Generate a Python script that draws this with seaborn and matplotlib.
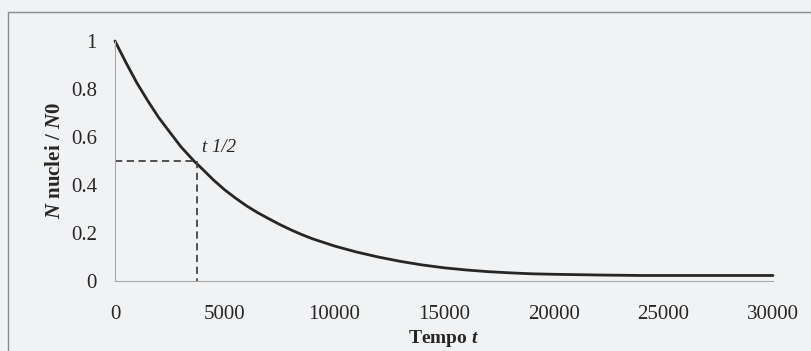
import numpy as np
import pandas as pd
import matplotlib
matplotlib.use("Agg")
import matplotlib.pyplot as plt
from matplotlib.patches import Rectangle
import seaborn as sns

# values
tempo = [0, 500, 1000, 1500, 2000, 2500, 3000, 3600, 4000, 4500, 5000,
         5500, 6000, 6500, 7000, 7500, 8000, 8500, 9000, 10000, 11000,
         12000, 13000, 14000, 15000, 16000, 17000, 18000, 19000, 20000,
         22000, 24000, 26000, 28000, 30000]
n_rel = [1.0, 0.91, 0.825, 0.75, 0.68, 0.62, 0.56, 0.50, 0.465, 0.42, 0.38,
         0.345, 0.313, 0.285, 0.26, 0.236, 0.214, 0.194, 0.176, 0.146, 0.121,
         0.10, 0.082, 0.067, 0.055, 0.046, 0.039, 0.034, 0.030, 0.028,
         0.025, 0.023, 0.023, 0.023, 0.023]
t_half = 3600
x_ticks = [0, 5000, 10000, 15000, 20000, 25000, 30000]
y_ticks = [0, 0.2, 0.4, 0.6, 0.8, 1]
y_labels = ["0", "0.2", "0.4", "0.6", "0.8", "1"]

bg = "#f1f2f4"
ink = "#262626"

sns.set_style("white")
plt.rcParams["font.family"] = ["Liberation Serif", "DejaVu Serif"]
plt.rcParams["mathtext.fontset"] = "custom"
plt.rcParams["mathtext.it"] = "Liberation Serif:italic:bold"
plt.rcParams["mathtext.rm"] = "Liberation Serif:bold"

data = pd.DataFrame({"tempo": tempo, "n": n_rel})

fig = plt.figure(figsize=(8.11, 3.51), dpi=100, facecolor=bg)
ax = fig.add_axes([115 / 811, 1 - 281 / 351, (773 - 115) / 811, (281 - 41) / 351])
ax.set_facecolor(bg)

sns.lineplot(data=data, x="tempo", y="n", ax=ax, color=ink, linewidth=2.0,
             clip_on=False)

# half-life guides
ax.plot([0, t_half], [0.5, 0.5], ls=(0, (4, 2.5)), color="#444444", lw=1.3)
ax.plot([t_half + 120, t_half + 120], [0.5, 0.0], ls=(0, (4, 2.5)), color="#444444", lw=1.3)
ax.text(t_half + 350, 0.555, "t 1/2", fontsize=13.5, style="italic", color=ink,
        va="center", ha="left")

ax.set_xlim(0, 30000)
ax.set_ylim(0, 1)
ax.set_xticks(x_ticks)
ax.set_xticklabels([str(v) for v in x_ticks])
ax.set_yticks(y_ticks)
ax.set_yticklabels(y_labels)
ax.tick_params(axis="both", labelsize=15, colors="#9a9a9a", labelcolor=ink,
               length=5, width=0.8, direction="out")
ax.tick_params(axis="x", pad=12)
ax.tick_params(axis="y", pad=8)

for s in ["top", "right"]:
    ax.spines[s].set_visible(False)
for s in ["left", "bottom"]:
    ax.spines[s].set_color("#a8a8a8")
    ax.spines[s].set_linewidth(0.8)

ax.set_xlabel(r"Tempo $t$", fontsize=14, fontweight="bold", color=ink, labelpad=3)
ax.set_ylabel(r"$N$ nuclei / $N0$", fontsize=15, fontweight="bold", color=ink,
              labelpad=4)

# outer frame of the printed box
fig.add_artist(Rectangle((8 / 811, -0.1), 1.2, 1.1 - 12 / 351,
                         transform=fig.transFigure, fill=False,
                         edgecolor="#8a8a8a", linewidth=1.0))

fig.savefig("out.png", dpi=100, facecolor=bg)
